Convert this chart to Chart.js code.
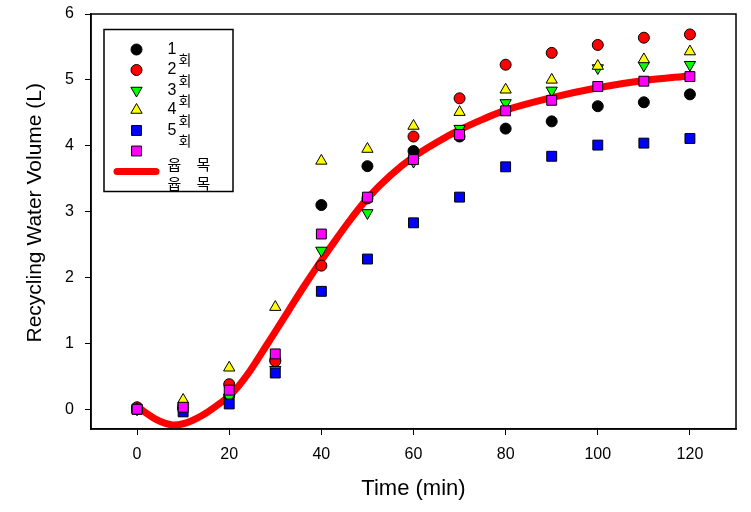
<!DOCTYPE html>
<html><head><meta charset="utf-8">
<script src="https://cdn.jsdelivr.net/npm/chart.js@4"></script>
<style>html,body{margin:0;padding:0;background:#fff}#wrap{width:751px;height:512px}</style>
</head><body><div id="wrap"><canvas id="c" width="751" height="512"></canvas></div>
<script>
// ---- data ----
const times = [0, 10, 20, 30, 40, 50, 60, 70, 80, 90, 100, 110, 120];
const run1 = [0.00, 0.02, 0.20, 0.75, 3.10, 3.69, 3.92, 4.14, 4.26, 4.37, 4.60, 4.66, 4.78];
const run2 = [0.03, 0.02, 0.38, 0.73, 2.18, 3.20, 4.14, 4.72, 5.23, 5.41, 5.53, 5.64, 5.69];
const run3 = [0.00, 0.02, 0.18, 0.60, 2.41, 2.98, 3.76, 4.26, 4.65, 4.84, 5.18, 5.22, 5.23];
const run4 = [0.00, 0.14, 0.63, 1.55, 3.77, 3.95, 4.30, 4.51, 4.85, 5.00, 5.21, 5.31, 5.43];
const run5 = [0.00, -0.04, 0.08, 0.55, 1.79, 2.28, 2.83, 3.22, 3.68, 3.84, 4.01, 4.04, 4.11];
const meanRun = [0.00, 0.03, 0.29, 0.84, 2.66, 3.22, 3.79, 4.17, 4.53, 4.69, 4.90, 4.98, 5.05];
const fitTimes = [0, 2, 4, 6, 8, 10, 12, 14, 16, 18, 20, 22, 24, 26, 28, 30, 33, 36, 40, 43, 46, 50, 55, 60, 65, 70, 75, 80, 90, 100, 110, 120];
const fitValues = [0.05, -0.06, -0.15, -0.21, -0.24, -0.22, -0.17, -0.10, -0.01, 0.09, 0.20, 0.35, 0.53, 0.74, 0.96, 1.18, 1.51, 1.84, 2.26, 2.56, 2.85, 3.20, 3.55, 3.83, 4.05, 4.24, 4.40, 4.54, 4.73, 4.88, 4.99, 5.06];
const xTicks = [0, 20, 40, 60, 80, 100, 120];
const yTicks = [0, 1, 2, 3, 4, 5, 6];
const legendNums = ['1', '2', '3', '4', '5'];
const legendSuffix = '회';
const legendFitText = ['윱', '목'];

const pts = (xs, ys) => xs.map((x, i) => ({x: x, y: ys[i]}));

const datasets = [
  {data: pts(fitTimes, fitValues), showLine: true, borderColor: '#ff0000', borderWidth: 7, borderCapStyle: 'round', borderJoinStyle: 'round', cubicInterpolationMode: 'monotone', pointRadius: 0, order: 7},
  {data: pts(times, run1), pointStyle: 'circle', pointRadius: 5.5, backgroundColor: '#000000', borderColor: '#000000', borderWidth: 1, order: 6},
  {data: pts(times, run2), pointStyle: 'circle', pointRadius: 5.5, backgroundColor: '#ff0000', borderColor: '#000000', borderWidth: 1, order: 5},
  {data: pts(times, run3), pointStyle: 'triangle', rotation: 180, pointRadius: 6.5, backgroundColor: '#00ff00', borderColor: '#000000', borderWidth: 1, order: 4},
  {data: pts(times, run4), pointStyle: 'triangle', pointRadius: 6.5, backgroundColor: '#ffff00', borderColor: '#000000', borderWidth: 1, order: 3},
  {data: pts(times, run5), pointStyle: 'rect', pointRadius: 7, backgroundColor: '#0000ff', borderColor: '#000000', borderWidth: 1, order: 2},
  {data: pts(times, meanRun), pointStyle: 'rect', pointRadius: 7, backgroundColor: '#ff00ff', borderColor: '#000000', borderWidth: 1, order: 1}
];

const framePlugin = {
  id: 'frame',
  afterDraw(chart) {
    const {ctx, chartArea: a} = chart;
    ctx.save();
    ctx.strokeStyle = '#000';
    ctx.lineWidth = 1.5;
    ctx.strokeRect(a.left, a.top, a.right - a.left, a.bottom - a.top);
    // legend box
    const bx = 104, by = 29.5, bw = 129, bh = 162;
    ctx.fillStyle = '#fff';
    ctx.fillRect(bx, by, bw, bh);
    ctx.strokeRect(bx, by, bw, bh);
    const mx = 136.5;
    const rows = [49.5, 70, 90.5, 110, 130.5, 151];
    const marks = datasets.slice(1);
    marks.forEach((d, i) => {
      ctx.fillStyle = d.backgroundColor;
      ctx.strokeStyle = d.borderColor;
      ctx.lineWidth = 1;
      Chart.helpers.drawPoint(ctx, {pointStyle: d.pointStyle, rotation: d.rotation || 0, radius: d.pointRadius, borderWidth: 1}, mx, rows[i]);
    });
    // fit line sample
    ctx.strokeStyle = '#ff0000';
    ctx.lineWidth = 7;
    ctx.lineCap = 'round';
    ctx.beginPath();
    ctx.moveTo(117, 171.5);
    ctx.lineTo(156, 171.5);
    ctx.stroke();
    // texts
    ctx.fillStyle = '#000';
    ctx.textBaseline = 'middle';
    ctx.textAlign = 'left';
    legendNums.forEach((t, i) => {
      ctx.font = "16px 'Liberation Sans', Arial, sans-serif";
      ctx.fillText(t, 167.5, rows[i]);
      ctx.font = "14px 'Noto Sans CJK KR', sans-serif";
      ctx.fillText(legendSuffix, 178.5, rows[i] + 10.5);
    });
    ctx.font = "15px 'Noto Sans CJK KR', sans-serif";
    [164, 183].forEach(y => {
      ctx.fillText(legendFitText[0], 167.5, y);
      ctx.fillText(legendFitText[1], 196.5, y);
    });
    ctx.restore();
  }
};

new Chart(document.getElementById('c'), {
  type: 'scatter',
  data: {datasets},
  plugins: [framePlugin],
  options: {
    responsive: false,
    animation: false,
    devicePixelRatio: 1,
    layout: {padding: {top: 14, right: 15, left: 0, bottom: 0}},
    plugins: {legend: {display: false}, tooltip: {enabled: false}},
    scales: {
      x: {
        type: 'linear', min: -10, max: 130,
        afterBuildTicks: s => { s.ticks = xTicks.map(v => ({value: v})); },
        afterFit: s => { s.height = 83; s.paddingLeft = 0; s.paddingRight = 0; },
        grid: {display: true, drawOnChartArea: false, drawTicks: true, tickLength: 6, color: '#000', tickWidth: 1},
        border: {display: true, color: '#000', width: 1.5},
        ticks: {color: '#000', font: {family: "'Liberation Sans', Arial, sans-serif", size: 16}, padding: 10, maxRotation: 0},
        title: {display: true, text: 'Time (min)', color: '#000', font: {family: "'Liberation Sans', Arial, sans-serif", size: 22}, padding: {top: 0, bottom: 10}}
      },
      y: {
        type: 'linear', min: -0.3, max: 6,
        afterBuildTicks: s => { s.ticks = yTicks.map(v => ({value: v})); },
        afterFit: s => { s.width = 91; s.paddingTop = 0; s.paddingBottom = 0; },
        grid: {display: true, drawOnChartArea: false, drawTicks: true, tickLength: 6, color: '#000', tickWidth: 1},
        border: {display: true, color: '#000', width: 1.5},
        ticks: {color: '#000', font: {family: "'Liberation Sans', Arial, sans-serif", size: 16}, padding: 11},
        title: {display: true, text: '   Recycling Water Volume (L)', color: '#000', font: {family: "'Liberation Sans', Arial, sans-serif", size: 21}, padding: {top: 23, bottom: 0}}
      }
    }
  }
});
</script>
</body></html>
